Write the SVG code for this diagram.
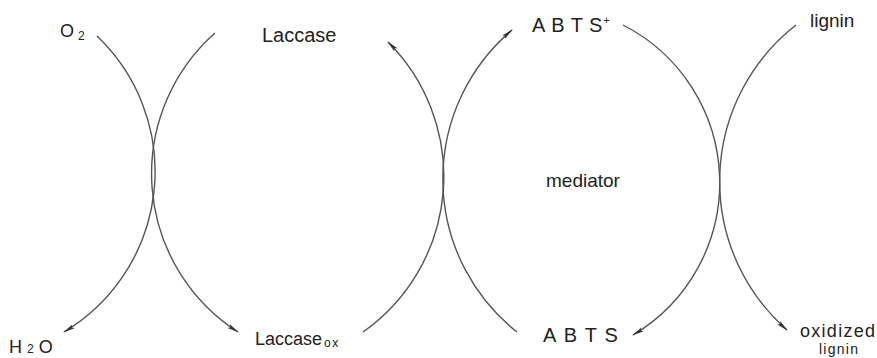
<svg xmlns="http://www.w3.org/2000/svg" width="877" height="358" viewBox="0 0 877 358">
<style>
.t{font-family:"Liberation Sans",Arial,sans-serif;fill:#222;}
.c{fill:none;stroke:#555;stroke-width:1.4;}
</style>
<defs>
<marker id="ah" viewBox="0 0 12 6" refX="11" refY="3" markerWidth="12" markerHeight="6" markerUnits="userSpaceOnUse" orient="auto">
<path d="M0,0.8 L12,3 L0,5.2 L2,3 Z" fill="#333"/>
</marker>
</defs>
<rect width="877" height="358" fill="#fff"/>
<g id="connectors">
<path class="c" d="M97,36 A187,187 0 0 1 64,332" marker-end="url(#ah)"/>
<path class="c" d="M215,33 A188,188 0 0 0 238,332" marker-end="url(#ah)"/>
<path class="c" d="M363,332 A190,190 0 0 0 388,42" marker-end="url(#ah)"/>
<path class="c" d="M517,332 A195,195 0 0 1 512,30" marker-end="url(#ah)"/>
<path class="c" d="M623,25 A177,177 0 0 1 633,335" marker-end="url(#ah)"/>
<path class="c" d="M796,25 A198,198 0 0 0 787,330" marker-end="url(#ah)"/>
</g>
<g id="o2"><text class="t" x="60" y="37" font-size="18">O<tspan font-size="12" dx="4" dy="3">2</tspan></text></g>
<g id="h2o"><text class="t" x="9" y="353" font-size="18">H<tspan font-size="12" dx="5">2</tspan><tspan dx="5">O</tspan></text></g>
<g id="laccase"><text class="t" x="262" y="42" font-size="20">Laccase</text></g>
<g id="laccase-ox"><text class="t" x="255" y="345" font-size="18">Laccase<tspan font-size="12" dx="2" dy="2" letter-spacing="1.5">ox</tspan></text></g>
<g id="abts-plus"><text class="t" x="532" y="32" font-size="20"><tspan letter-spacing="6">ABT</tspan>S<tspan font-size="11" dx="1" dy="-8">+</tspan></text></g>
<g id="abts"><text class="t" x="543" y="342" font-size="20"><tspan letter-spacing="7.5">ABT</tspan>S</text></g>
<g id="mediator"><text class="t" x="546" y="187" font-size="19">mediator</text></g>
<g id="lignin"><text class="t" x="810" y="27" font-size="19">lignin</text></g>
<g id="oxidized-lignin"><text class="t"><tspan x="800" y="337" font-size="18" textLength="75">oxidized</tspan><tspan x="819" y="354" font-size="14" textLength="39">lignin</tspan></text></g>
</svg>
